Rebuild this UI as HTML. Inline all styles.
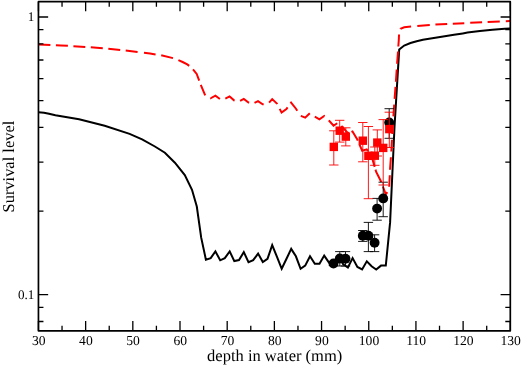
<!DOCTYPE html>
<html><head><meta charset="utf-8"><title>Survival level vs depth in water</title>
<style>html,body{margin:0;padding:0;background:#fff}svg{display:block}text{font-family:"Liberation Serif","Times New Roman",serif;fill:#000;text-rendering:geometricPrecision}</style></head>
<body>
<svg width="522" height="365" viewBox="0 0 522 365">
<rect width="522" height="365" fill="#fff"/>
<defs><clipPath id="c"><rect x="38.45" y="1.65" width="471.85" height="329.15"/></clipPath></defs>
<g clip-path="url(#c)">
<polyline points="38.4,112.2 44.0,112.7 49.0,113.7 55.4,115.3 79.1,119.3 97.8,124.0 104.7,125.7 129.6,133.9 142.1,139.4 154.9,146.5 164.9,152.7 174.9,162.7 184.8,175.1 192.0,189.8 196.8,206.5 201.2,237.7 205.9,259.6 210.7,258.1 215.4,251.4 220.2,260.3 224.8,258.1 229.7,251.4 234.3,261.1 239.0,260.1 243.8,252.1 248.5,262.1 253.2,260.1 258.1,253.6 262.8,262.1 267.5,258.8 272.2,245.1 277.0,256.9 281.7,268.8 286.5,258.8 291.2,248.9 295.9,256.3 300.6,268.8 305.2,265.6 310.0,256.3 314.8,263.8 319.5,263.8 324.2,255.6 329.0,262.6 333.7,264.3 338.5,256.8 343.2,264.3 347.9,267.5 352.6,258.1 357.4,267.0 362.1,269.5 366.8,261.3 371.6,266.3 376.2,269.5 381.0,265.6 385.8,265.6 390.1,222.4 394.5,127.0 399.2,49.6 404.2,45.5 410.5,43.0 416.7,41.2 422.9,39.7 429.1,38.7 435.4,37.8 441.6,36.8 447.8,35.8 454.0,34.8 462.8,33.4 467.5,32.6 479.9,30.9 492.4,29.7 504.8,28.7 510.5,28.4" fill="none" stroke="#000" stroke-width="2.0" stroke-linejoin="miter"/>
<path d="M38.4 44.4L50.4 44.9M55.9 45.2L60.9 45.4L67.9 45.8M73.4 46.2L85.3 46.9M90.8 47.3L102.8 48.3M108.3 48.7L110.7 48.9L120.2 50.0M125.7 50.6L135.6 51.7L137.6 51.9M144.0 52.8L150.0 53.5L155.6 54.4M161.2 55.2L173.0 58.1M178.4 60.2L182.6 62.0L187.3 64.4L189.2 65.9M193.0 69.4L196.7 73.9L199.2 80.6M200.8 84.9L201.4 86.5L205.2 95.4M210.2 98.2L210.6 98.3L215.4 95.7L219.9 99.0M225.3 98.7L229.6 96.4L234.3 100.5L234.6 100.6M240.1 100.9L243.8 98.9L248.5 102.5L249.2 102.6M254.5 102.9L258.0 101.2L262.7 104.3L263.7 104.3M269.1 102.6L272.2 99.1L276.9 103.5L277.2 104.1M279.7 108.9L281.6 112.6L286.4 109.1L287.6 107.4M290.5 103.4L291.1 102.6L295.8 108.5L297.3 110.8M300.8 115.9L305.2 117.6L309.8 113.2M314.8 116.7L319.4 119.4L324.2 116.0L324.5 116.3M328.8 120.4L328.9 120.5L333.6 125.7L337.2 123.2M341.4 125.8L343.1 127.8L347.8 133.0L349.0 132.6M351.4 131.9L352.5 131.5L357.3 139.5L357.8 140.6M359.4 144.3L362.2 150.7L366.7 149.3L368.0 151.1M371.2 155.6L371.5 156.0L374.7 166.9M375.5 169.6L376.2 172.0L380.9 181.2L381.2 182.0M382.9 186.5L385.8 194.3L387.3 192.2M389.2 186.8L389.8 175.2M390.0 169.8L390.9 157.3M391.3 151.5L391.5 148.0L392.0 139.7M392.3 134.0L393.1 122.2M393.4 116.4L394.2 104.6M394.6 98.9L395.5 86.9M395.9 81.7L396.7 69.5M397.1 63.8L398.0 51.5M398.3 46.5L398.8 40.0L399.0 35.0L399.0 34.6M400.4 28.9L400.5 28.7L404.2 27.2L411.1 26.6M417.3 26.0L429.8 25.0M435.4 24.6L447.2 24.0M452.8 23.7L464.3 23.3M470.2 22.8L482.1 22.2M487.6 21.9L499.8 21.4M505.8 21.2L510.5 21.0" fill="none" stroke="#f00" stroke-width="2.0" stroke-linejoin="miter"/>
<path d="M333.5 261.5V265.5M328.8 261.5h9.4M328.8 265.5h9.4" stroke="#000" stroke-width="0.9" fill="none"/>
<circle cx="333.5" cy="263.5" r="4.95" fill="#000"/>
<path d="M339.8 251.6V266.0M335.1 251.6h9.4M335.1 266.0h9.4" stroke="#000" stroke-width="0.9" fill="none"/>
<circle cx="339.8" cy="258.5" r="4.95" fill="#000"/>
<path d="M345.5 251.6V266.0M340.8 251.6h9.4M340.8 266.0h9.4" stroke="#000" stroke-width="0.9" fill="none"/>
<circle cx="345.5" cy="258.8" r="4.95" fill="#000"/>
<path d="M362.8 230.5V241.4M358.1 230.5h9.4M358.1 241.4h9.4" stroke="#000" stroke-width="0.9" fill="none"/>
<circle cx="362.8" cy="235.7" r="4.95" fill="#000"/>
<path d="M368.4 222.4V251.6M363.7 222.4h9.4M363.7 251.6h9.4" stroke="#000" stroke-width="0.9" fill="none"/>
<circle cx="368.4" cy="235.7" r="4.95" fill="#000"/>
<path d="M374.6 234.8V251.6M369.9 234.8h9.4M369.9 251.6h9.4" stroke="#000" stroke-width="0.9" fill="none"/>
<circle cx="374.6" cy="242.8" r="4.95" fill="#000"/>
<path d="M377.1 198.4V220.2M372.4 198.4h9.4M372.4 220.2h9.4" stroke="#000" stroke-width="0.9" fill="none"/>
<circle cx="377.1" cy="208.6" r="4.95" fill="#000"/>
<path d="M383.2 182.2V216.7M378.5 182.2h9.4M378.5 216.7h9.4" stroke="#000" stroke-width="0.9" fill="none"/>
<circle cx="383.2" cy="198.4" r="4.95" fill="#000"/>
<path d="M389.2 108.7V138.3M384.5 108.7h9.4M384.5 138.3h9.4" stroke="#000" stroke-width="0.9" fill="none"/>
<circle cx="389.2" cy="122.5" r="4.95" fill="#000"/>
<path d="M333.8 130.8V165.0M329.1 130.8h9.4M329.1 165.0h9.4" stroke="#f00" stroke-width="0.9" fill="none"/>
<rect x="329.6" y="142.7" width="8.4" height="8.4" fill="#f00"/>
<path d="M339.7 120.3V142.1M335.0 120.3h9.4M335.0 142.1h9.4" stroke="#f00" stroke-width="0.9" fill="none"/>
<rect x="335.5" y="126.5" width="8.4" height="8.4" fill="#f00"/>
<path d="M345.8 127.8V145.9M341.1 127.8h9.4M341.1 145.9h9.4" stroke="#f00" stroke-width="0.9" fill="none"/>
<rect x="341.6" y="132.4" width="8.4" height="8.4" fill="#f00"/>
<path d="M362.8 122.5V161.8M358.1 122.5h9.4M358.1 161.8h9.4" stroke="#f00" stroke-width="0.9" fill="none"/>
<rect x="358.6" y="136.5" width="8.4" height="8.4" fill="#f00"/>
<path d="M368.4 126.5V198.7M363.7 126.5h9.4M363.7 198.7h9.4" stroke="#f00" stroke-width="0.9" fill="none"/>
<rect x="364.2" y="151.6" width="8.4" height="8.4" fill="#f00"/>
<path d="M374.8 147.0V165.3M370.1 147.0h9.4M370.1 165.3h9.4" stroke="#f00" stroke-width="0.9" fill="none"/>
<rect x="370.6" y="151.5" width="8.4" height="8.4" fill="#f00"/>
<path d="M377.3 129.9V156.0M372.6 129.9h9.4M372.6 156.0h9.4" stroke="#f00" stroke-width="0.9" fill="none"/>
<rect x="373.1" y="138.4" width="8.4" height="8.4" fill="#f00"/>
<path d="M383.2 119.6V185.0M378.5 119.6h9.4M378.5 185.0h9.4" stroke="#f00" stroke-width="0.9" fill="none"/>
<rect x="379.0" y="143.7" width="8.4" height="8.4" fill="#f00"/>
<path d="M389.3 112.2V147.5M384.6 112.2h9.4M384.6 147.5h9.4" stroke="#f00" stroke-width="0.9" fill="none"/>
<rect x="385.1" y="124.9" width="8.4" height="8.4" fill="#f00"/>
</g>
<path d="M38.45 330.80v-9.7M38.45 1.65v9.7M62.04 330.80v-5.0M62.04 1.65v5.0M85.64 330.80v-9.7M85.64 1.65v9.7M109.23 330.80v-5.0M109.23 1.65v5.0M132.82 330.80v-9.7M132.82 1.65v9.7M156.41 330.80v-5.0M156.41 1.65v5.0M180.00 330.80v-9.7M180.00 1.65v9.7M203.60 330.80v-5.0M203.60 1.65v5.0M227.19 330.80v-9.7M227.19 1.65v9.7M250.78 330.80v-5.0M250.78 1.65v5.0M274.38 330.80v-9.7M274.38 1.65v9.7M297.97 330.80v-5.0M297.97 1.65v5.0M321.56 330.80v-9.7M321.56 1.65v9.7M345.15 330.80v-5.0M345.15 1.65v5.0M368.75 330.80v-9.7M368.75 1.65v9.7M392.34 330.80v-5.0M392.34 1.65v5.0M415.93 330.80v-9.7M415.93 1.65v9.7M439.52 330.80v-5.0M439.52 1.65v5.0M463.12 330.80v-9.7M463.12 1.65v9.7M486.71 330.80v-5.0M486.71 1.65v5.0M510.30 330.80v-9.7M510.30 1.65v9.7M38.45 321.50h5.0M510.30 321.50h-5.0M38.45 307.30h5.0M510.30 307.30h-5.0M38.45 294.60h9.7M510.30 294.60h-9.7M38.45 211.03h5.0M510.30 211.03h-5.0M38.45 162.15h5.0M510.30 162.15h-5.0M38.45 127.47h5.0M510.30 127.47h-5.0M38.45 100.57h5.0M510.30 100.57h-5.0M38.45 78.59h5.0M510.30 78.59h-5.0M38.45 60.00h5.0M510.30 60.00h-5.0M38.45 43.90h5.0M510.30 43.90h-5.0M38.45 29.70h5.0M510.30 29.70h-5.0M38.45 17.00h9.7M510.30 17.00h-9.7" stroke="#000" stroke-width="1.3" fill="none"/>
<rect x="38.45" y="1.65" width="471.85" height="329.15" fill="none" stroke="#000" stroke-width="1.7" stroke-linejoin="round"/>
<text x="38.8" y="345.0" font-size="13.6" text-anchor="middle">30</text>
<text x="85.9" y="345.0" font-size="13.6" text-anchor="middle">40</text>
<text x="133.1" y="345.0" font-size="13.6" text-anchor="middle">50</text>
<text x="180.3" y="345.0" font-size="13.6" text-anchor="middle">60</text>
<text x="227.5" y="345.0" font-size="13.6" text-anchor="middle">70</text>
<text x="274.7" y="345.0" font-size="13.6" text-anchor="middle">80</text>
<text x="321.9" y="345.0" font-size="13.6" text-anchor="middle">90</text>
<text x="369.0" y="345.0" font-size="13.6" text-anchor="middle">100</text>
<text x="416.2" y="345.0" font-size="13.6" text-anchor="middle">110</text>
<text x="463.4" y="345.0" font-size="13.6" text-anchor="middle">120</text>
<text x="510.6" y="345.0" font-size="13.6" text-anchor="middle">130</text>
<text x="34.3" y="21.4" font-size="13.1" text-anchor="end">1</text>
<text x="34.3" y="299.1" font-size="13.1" text-anchor="end">0.1</text>
<text x="274.7" y="361.4" font-size="16.5" text-anchor="middle">depth in water (mm)</text>
<text transform="translate(13.8,166.6) rotate(-90)" font-size="16.45" text-anchor="middle">Survival level</text>
</svg>
</body></html>
